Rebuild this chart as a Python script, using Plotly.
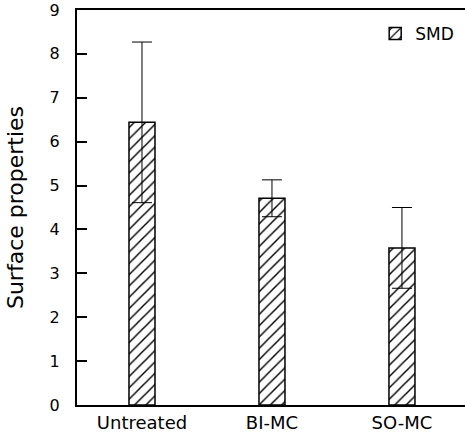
import plotly.graph_objects as go

categories = ["Untreated", "BI-MC", "SO-MC"]
smd_values = [6.44, 4.71, 3.58]
smd_errors = [1.83, 0.42, 0.92]
y_ticks = [0, 1, 2, 3, 4, 5, 6, 7, 8, 9]

FONT = "DejaVu Sans, Liberation Sans, Arial, sans-serif"

fig = go.Figure()
fig.add_trace(go.Bar(
    x=[0, 1, 2],
    y=smd_values,
    name="SMD",
    width=0.2,
    marker=dict(
        color="white",
        line=dict(color="black", width=1.5),
        pattern=dict(shape="/", size=8, solidity=0.18, fgcolor="black", bgcolor="white", fgopacity=1),
    ),
    error_y=dict(type="data", array=smd_errors, visible=True, color="black",
                 thickness=1, width=10),
))

fig.update_layout(
    width=465, height=441, autosize=False,
    margin=dict(l=77, r=0, t=10, b=36, autoexpand=False),
    paper_bgcolor="white", plot_bgcolor="white",
    font=dict(family=FONT, size=16, color="black"),
    showlegend=True,
    legend=dict(x=0.985, y=0.985, xanchor="right", yanchor="top",
                bgcolor="rgba(0,0,0,0)", font=dict(size=17)),
    xaxis=dict(
        range=[-0.5, 2.485], automargin=False,
        tickvals=[0, 1, 2], ticktext=categories,
        showline=True, linecolor="black", linewidth=2, mirror=True,
        ticks="", showgrid=False, zeroline=False,
        tickfont=dict(size=18),
    ),
    yaxis=dict(
        range=[0, 9], tickvals=y_ticks, automargin=False,
        showline=True, linecolor="black", linewidth=2, mirror=False,
        ticks="inside", ticklen=10, tickwidth=1.5, tickcolor="black",
        showgrid=False, zeroline=False,
        ticklabelstandoff=12,
        tickfont=dict(size=16),
        title=dict(text="Surface properties", font=dict(size=22), standoff=20),
    ),
    bargap=0.8,
)

fig.write_html("out.html", config={"displayModeBar": False},
               post_script="document.body.style.margin='0';")
